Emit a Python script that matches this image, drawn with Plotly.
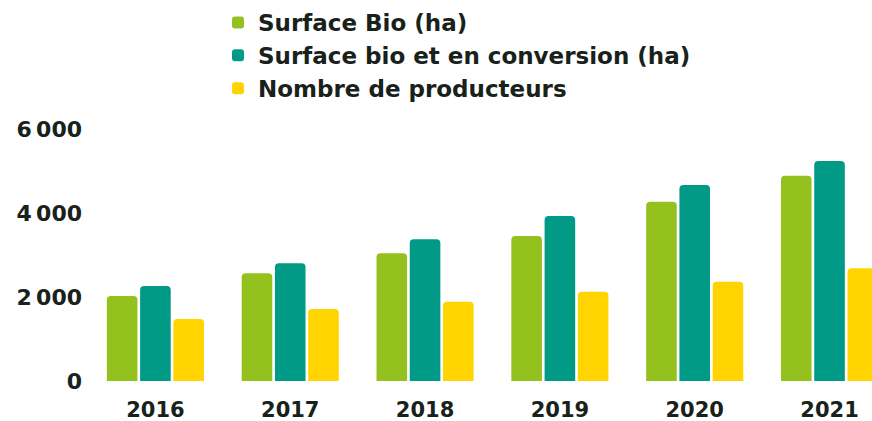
import plotly.graph_objects as go

years = ["2016", "2017", "2018", "2019", "2020", "2021"]
surface_bio = [2024, 2564, 3040, 3452, 4269, 4888]
surface_bio_conv = [2262, 2802, 3374, 3929, 4667, 5238]
producteurs = [1476, 1714, 1888, 2126, 2364, 2683]

series_names = ["Surface Bio (ha)", "Surface bio et en conversion (ha)", "Nombre de producteurs"]
colors = ["#95c11f", "#009a87", "#ffd400"]

y_tickvals = [0, 2000, 4000, 6000]
y_ticktext = ["0", "2\u2009000", "4\u2009000", "6\u2009000"]

TEXT = "#18221a"
FONT = "DejaVu Sans"

fig = go.Figure()
for name, vals, col in zip(series_names, [surface_bio, surface_bio_conv, producteurs], colors):
    fig.add_trace(go.Bar(x=years, y=vals, name=name, marker=dict(color=col, line=dict(width=0))))

fig.update_layout(
    width=872, height=421,
    margin=dict(l=87.5, r=0, t=129, b=40, pad=0, autoexpand=False),
    paper_bgcolor="white", plot_bgcolor="white",
    barmode="group", bargap=0.26, bargroupgap=0.08, barcornerradius=4,
    font=dict(family=FONT, color=TEXT, size=20, weight=700),
    showlegend=True,
    legend=dict(
        xref="container", yref="container", x=218/872, y=1 - 1/421,
        xanchor="left", yanchor="top", orientation="v",
        font=dict(family=FONT, size=23, color=TEXT, weight=700),
        bgcolor="rgba(0,0,0,0)", traceorder="normal",
    ),
    xaxis=dict(
        type="category", range=[-0.5, 5.315], showgrid=False, zeroline=False, showline=False,
        ticks="", ticklabelstandoff=14, tickangle=0,
        tickfont=dict(family=FONT, size=21, color=TEXT, weight=700),
        fixedrange=True,
    ),
    yaxis=dict(
        range=[0, 6000], tickvals=y_tickvals, ticktext=y_ticktext, showgrid=False,
        zeroline=False, showline=False, ticks="", ticklabelstandoff=5,
        tickfont=dict(family=FONT, size=22, color=TEXT, weight=700),
        fixedrange=True,
    ),
)

fig.write_html("out.html")
